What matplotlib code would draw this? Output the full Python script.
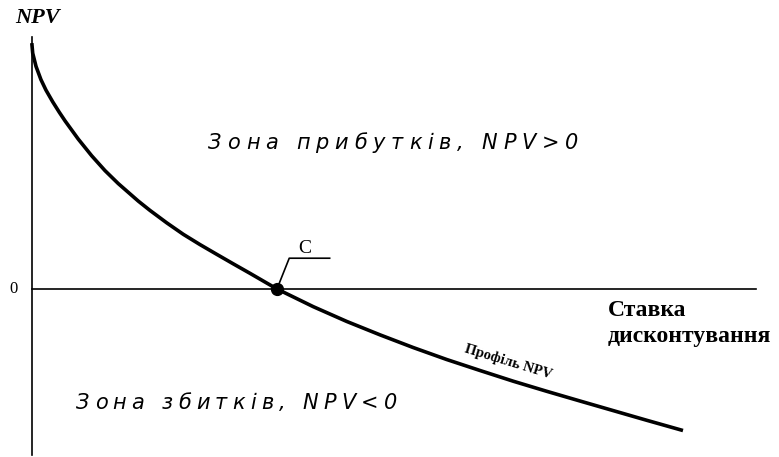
import numpy as np
from matplotlib import pyplot as plt

# discount rate (%) and NPV (arbitrary units)
rate = [0, 0.06, 0.33, 0.73, 1.14, 1.69, 2.23, 2.71, 3.78, 4.87, 5.96, 7.04,
        8.68, 9.63, 11.0, 12.35, 13.71, 15.08, 16.43, 17.8, 20.0, 22.96,
        25.69, 28.41, 31.12, 33.85, 36.57, 39.29, 42.0, 44.73, 47.42, 50.18,
        53.0]
npv = [100, 96.6, 91.2, 85.8, 81.5, 76.7, 72.4, 68.8, 61.4, 54.6, 48.5, 43.2,
       36.0, 32.2, 27.1, 22.4, 18.2, 14.2, 10.3, 6.4, 0, -7.25,
       -13.3, -18.8, -24.0, -28.9, -33.4, -37.8, -41.9, -45.9, -49.8, -53.8,
       -57.8]

irr_rate = 20.0
axis_x_end = 59.1
axis_y_top = 103.3
axis_y_bottom = -68.0

DPI = 100
fig = plt.figure(figsize=(7.79, 4.57), dpi=DPI)
ax = fig.add_axes([0, 0, 1, 1])
ax.set_xlim(-2.61, 60.98)
ax.set_ylim(-68.85, 118.4)
ax.axis("off")

# axes
ax.plot([0, 0], [axis_y_bottom, axis_y_top], color="black", lw=1.2)
ax.plot([0, axis_x_end], [0, 0], color="black", lw=1.2)

# NPV profile
ax.plot(rate, npv, color="black", lw=2.6, solid_joinstyle="round")
ax.plot([irr_rate], [0], "o", color="black", ms=8.5)

# leader to point C
ax.plot([irr_rate, 21.0, 24.3], [0, 12.6, 12.6], color="black", lw=1.2)
serif = "Liberation Serif"
ax.text(22.3, 16.5, "C", family=serif, fontsize=14, ha="center", va="center")

ax.text(-1.47, 0, "0", family=serif, fontsize=12, ha="center", va="center")
ax.text(0.49, 111.1, "NPV", family=serif, fontsize=16, weight="bold",
        style="italic", ha="center", va="center")
ax.text(47.0, -10.9, "Ставка", family=serif, fontsize=17, weight="bold",
        ha="left", va="baseline")
ax.text(47.0, -21.6, "дисконтування", family=serif, fontsize=17,
        weight="bold", ha="left", va="baseline")
ax.text(38.9, -30.0, "Профіль NPV", family=serif, fontsize=10.5,
        weight="bold", rotation=-17, ha="center", va="center",
        rotation_mode="anchor")

renderer = fig.canvas.get_renderer()


def spaced_text(x, y, s, width_px, **kw):
    widths = []
    for ch in s:
        t = ax.text(0, 0, ch, **kw)
        widths.append(t.get_window_extent(renderer).width)
        t.remove()
    gap = (width_px - sum(widths)) / (len(s) - 1)
    offset = 0.0
    for ch, w in zip(s, widths):
        ax.annotate(ch, (x, y), xytext=(offset * 72 / DPI, 0),
                    textcoords="offset points", ha="left", va="baseline",
                    **kw)
        offset += w + gap


zone_kw = dict(family="DejaVu Sans", style="italic", fontsize=15)
spaced_text(14.37, 57.5, "Зона прибутків, NPV>0", 370, **zone_kw)
spaced_text(3.59, -49.3, "Зона збитків, NPV<0", 321, **zone_kw)

plt.savefig("out.png", dpi=DPI)
